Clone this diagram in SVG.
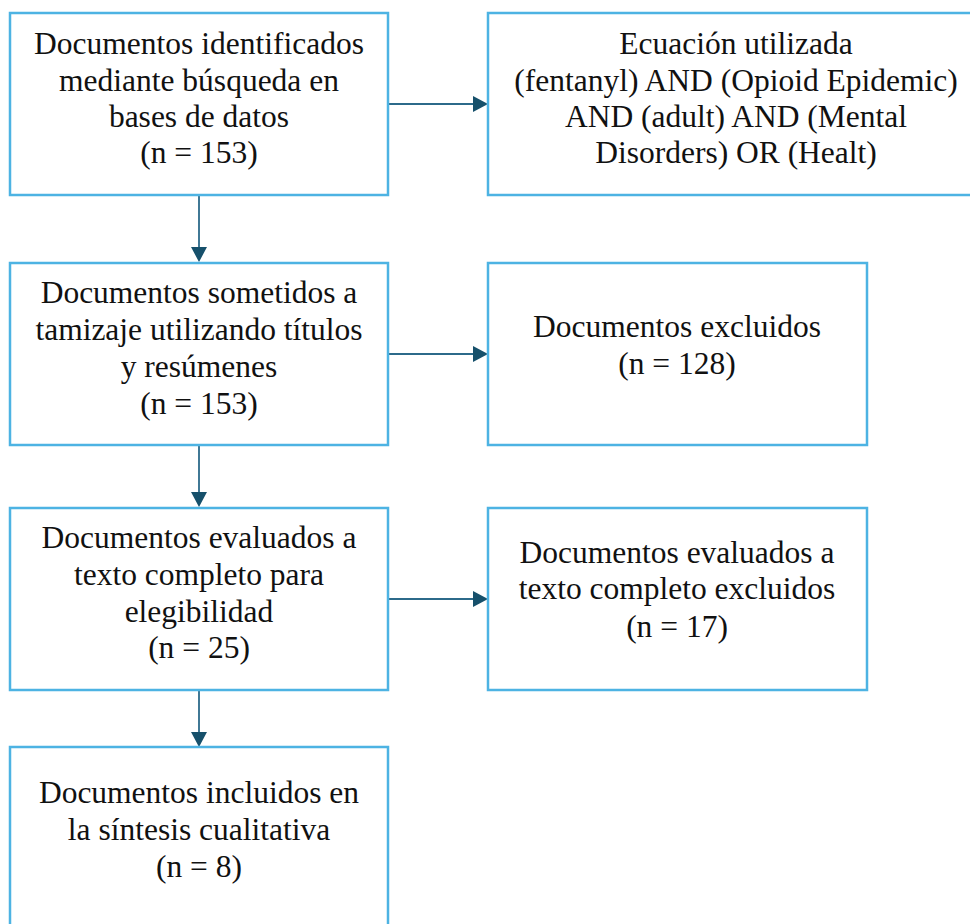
<svg xmlns="http://www.w3.org/2000/svg" width="970" height="924" viewBox="0 0 970 924">
<style>
.box{fill:#ffffff;stroke:#4db3e3;stroke-width:2.5}
.t{font-family:'Liberation Serif','Times New Roman',Times,'DejaVu Serif',serif;font-size:31.5px;fill:#111111;text-anchor:middle}
.ln{stroke:#2c6a8a;stroke-width:1.8;fill:none}
.hd{fill:#16506b}
</style>
<rect width="970" height="924" fill="#ffffff"/>
<g id="connectors">
<line class="ln" x1="388" y1="104" x2="474" y2="104"/>
<polygon class="hd" points="473,96 488,104 473,112"/>
<line class="ln" x1="388" y1="354" x2="474" y2="354"/>
<polygon class="hd" points="473,346 488,354 473,362"/>
<line class="ln" x1="388" y1="599" x2="474" y2="599"/>
<polygon class="hd" points="473,591 488,599 473,607"/>
<line class="ln" x1="199" y1="195" x2="199" y2="248"/>
<polygon class="hd" points="191,247 207,247 199,262"/>
<line class="ln" x1="199" y1="445" x2="199" y2="493"/>
<polygon class="hd" points="191,492 207,492 199,507"/>
<line class="ln" x1="199" y1="690" x2="199" y2="733"/>
<polygon class="hd" points="191,732 207,732 199,747"/>
</g>
<g id="n1">
<rect class="box" x="10" y="13" width="378" height="182"/>
<text class="t" font-family="Liberation Serif, DejaVu Serif, serif" x="199" y="54">Documentos identificados</text>
<text class="t" font-family="Liberation Serif, DejaVu Serif, serif" x="199" y="91">mediante búsqueda en</text>
<text class="t" font-family="Liberation Serif, DejaVu Serif, serif" x="199" y="127">bases de datos</text>
<text class="t" font-family="Liberation Serif, DejaVu Serif, serif" x="199" y="163">(n = 153)</text>
</g>
<g id="n2">
<rect class="box" x="488" y="13" width="497" height="182"/>
<text class="t" x="736" y="54">Ecuación utilizada</text>
<text class="t" x="736" y="91">(fentanyl) AND (Opioid Epidemic)</text>
<text class="t" x="736" y="127">AND (adult) AND (Mental</text>
<text class="t" x="736" y="163">Disorders) OR (Healt)</text>
</g>
<g id="n3">
<rect class="box" x="10" y="263" width="378" height="182"/>
<text class="t" x="199" y="303">Documentos sometidos a</text>
<text class="t" x="199" y="340">tamizaje utilizando títulos</text>
<text class="t" x="199" y="377">y resúmenes</text>
<text class="t" x="199" y="414">(n = 153)</text>
</g>
<g id="n4">
<rect class="box" x="488" y="263" width="379" height="182"/>
<text class="t" x="677" y="337">Documentos excluidos</text>
<text class="t" x="677" y="374">(n = 128)</text>
</g>
<g id="n5">
<rect class="box" x="10" y="508" width="378" height="182"/>
<text class="t" x="199" y="548">Documentos evaluados a</text>
<text class="t" x="199" y="585">texto completo para</text>
<text class="t" x="199" y="622">elegibilidad</text>
<text class="t" x="199" y="658">(n = 25)</text>
</g>
<g id="n6">
<rect class="box" x="488" y="508" width="379" height="182"/>
<text class="t" x="677" y="563">Documentos evaluados a</text>
<text class="t" x="677" y="599">texto completo excluidos</text>
<text class="t" x="677" y="637">(n = 17)</text>
</g>
<g id="n7">
<rect class="box" x="10" y="747" width="378" height="190"/>
<text class="t" x="199" y="803">Documentos incluidos en</text>
<text class="t" x="199" y="840">la síntesis cualitativa</text>
<text class="t" x="199" y="877">(n = 8)</text>
</g>
</svg>
